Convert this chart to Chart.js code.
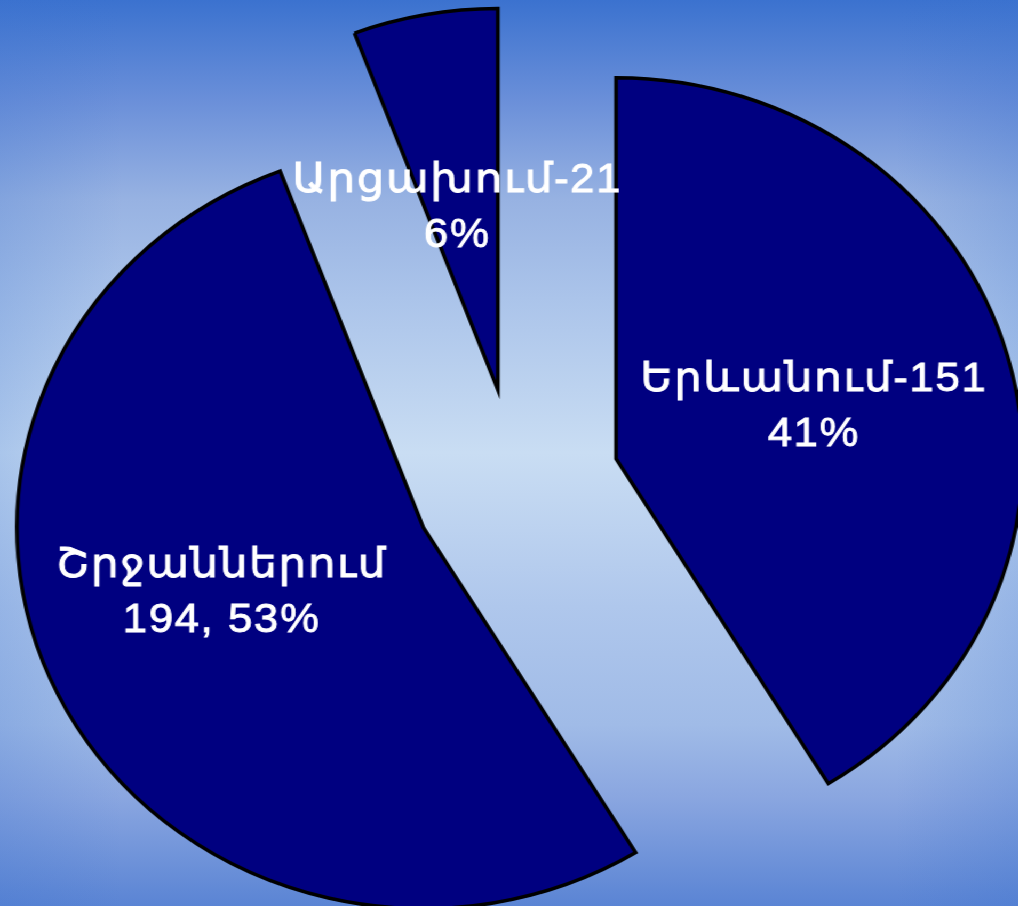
<!DOCTYPE html>
<html>
<head>
<meta charset="utf-8">
<script src="https://cdn.jsdelivr.net/npm/chart.js@4.4.0/dist/chart.umd.min.js"></script>
<style>
  html, body { margin: 0; padding: 0; }
  body {
    width: 1018px;
    height: 906px;
    overflow: hidden;
    position: relative;
    background:
      linear-gradient(to right, rgba(58,113,206,0.22) 0%, rgba(58,113,206,0) 12%, rgba(58,113,206,0) 88%, rgba(58,113,206,0.22) 100%),
      linear-gradient(to bottom, #3b72cf 0%, #6a8fd9 11%, #97b2e2 22%, #abc4ea 33%, #c9ddf3 50%, #afc7ec 67%, #a0bbe7 80%, #8aa6e0 88%, #5a84d4 100%);
  }
  /* the original slide is stretched a bit wider than tall */
  #stage {
    position: absolute;
    left: 0;
    top: 0;
    width: 954px;
    height: 906px;
    transform: scaleX(1.067);
    transform-origin: 0 0;
  }
  #stage canvas { position: absolute; left: 0; top: 0; }
</style>
</head>
<body>
<div id="stage">
  <canvas id="slice1" width="954" height="906"></canvas>
  <canvas id="slice0" width="954" height="906"></canvas>
  <canvas id="slice2" width="954" height="906"></canvas>
</div>
<script>
// Data
var categories = ['Երևանում', 'Շրջաններում', 'Արցախում'];
var values = [151, 194, 21];
var labelLines = [
  ['Երևանում-151', '41%'],
  ['Շրջաններում', '194, 53%'],
  ['Արցախում-21', '6%']
];

// Layout (unscaled stage pixels)
var stageW = 954, stageH = 906;
var pieCenter = { x: 484, y: 485 };
var explode = 97;
var pieRadius = 381;

var total = values.reduce(function(a, b) { return a + b; }, 0);

// mid angle of each slice, measured clockwise from 12 o'clock
function midAngle(i) {
  var before = 0;
  for (var j = 0; j < i; j++) before += values[j];
  return (before + values[i] / 2) / total * Math.PI * 2;
}

// draws the two-line white label of the visible slice
var sliceLabels = {
  id: 'sliceLabels',
  afterDatasetsDraw: function(chart, args, opts) {
    var arc = chart.getDatasetMeta(0).data[opts.index];
    var pos = arc.tooltipPosition();
    var lines = labelLines[opts.index];
    var ctx = chart.ctx;
    ctx.save();
    ctx.font = '41px "Liberation Sans", "DejaVu Sans", sans-serif';
    ctx.letterSpacing = '1.5px';
    ctx.fillStyle = '#ffffff';
    ctx.strokeStyle = '#ffffff';
    ctx.lineWidth = 0.9;
    ctx.textAlign = 'center';
    ctx.textBaseline = 'middle';
    var lh = 55;
    lines.forEach(function(line, i) {
      var x = pos.x + (opts.dx || 0);
      var y = pos.y + (opts.dy || 0) + (i - (lines.length - 1) / 2) * lh;
      ctx.fillText(line, x, y);
      ctx.strokeText(line, x, y);
    });
    ctx.restore();
  }
};

var labelNudge = [[2, 0], [-18, -18], [-4, 6]];

function drawSlice(k) {
  var a = midAngle(k);
  var cx = pieCenter.x + explode * Math.sin(a);
  var cy = pieCenter.y - explode * Math.cos(a);
  var padX = 2 * cx - stageW;
  var padY = 2 * cy - stageH;

  new Chart(document.getElementById('slice' + k), {
    type: 'pie',
    data: {
      labels: categories,
      datasets: [{
        data: values,
        backgroundColor: values.map(function(v, i) { return i === k ? '#000080' : 'rgba(0,0,0,0)'; }),
        borderColor: values.map(function(v, i) { return i === k ? '#000000' : 'rgba(0,0,0,0)'; }),
        borderWidth: 3.5,
        borderJoinStyle: 'miter',
        clip: false
      }]
    },
    options: {
      responsive: false,
      animation: false,
      events: [],
      radius: pieRadius,
      layout: {
        padding: {
          left: Math.max(0, padX),
          right: Math.max(0, -padX),
          top: Math.max(0, padY),
          bottom: Math.max(0, -padY)
        }
      },
      plugins: {
        legend: { display: false },
        tooltip: { enabled: false },
        sliceLabels: { index: k, dx: labelNudge[k][0], dy: labelNudge[k][1] }
      }
    },
    plugins: [sliceLabels]
  });
}

drawSlice(1);
drawSlice(0);
drawSlice(2);
</script>
</body>
</html>
